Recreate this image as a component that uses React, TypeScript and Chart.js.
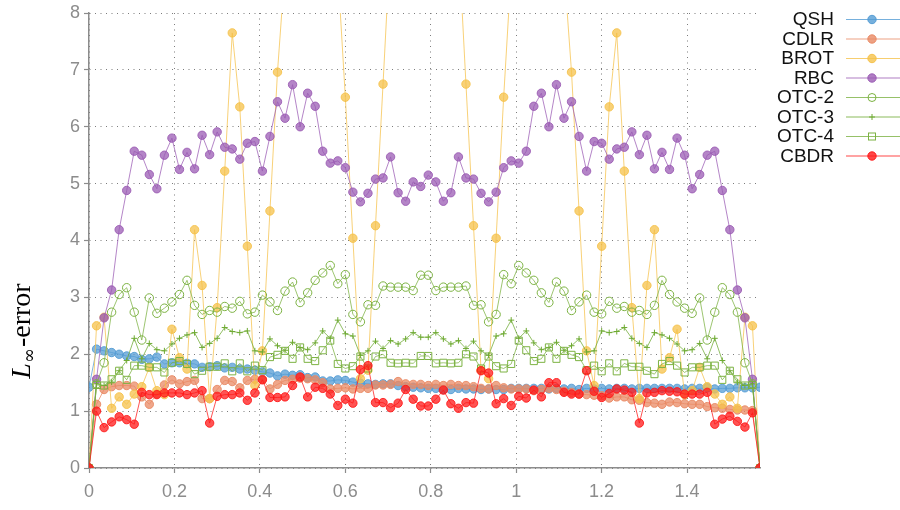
import React, { useEffect, useRef } from 'react';
import { Chart, registerables } from 'chart.js';

Chart.register(...registerables);

// ---------- data ----------
const N = 90;
// sampling grid: 90 equally spaced angles from 0 to pi/2
const angles = Array.from({ length: N }, (_, i) => (i * Math.PI) / 2 / (N - 1));

const seriesNames = ['QSH', 'CDLR', 'BROT', 'RBC', 'OTC-2', 'OTC-3', 'OTC-4', 'CBDR'];

const qsh = [
  1.42, 2.09, 2.06, 2.03, 2.0, 1.97, 1.96, 1.91, 1.92, 1.95, 1.83, 1.85, 1.85, 1.84, 1.83,
  1.77, 1.78, 1.8, 1.76, 1.77, 1.74, 1.74, 1.72, 1.69, 1.67, 1.62, 1.65, 1.63, 1.64, 1.59,
  1.6, 1.53, 1.53, 1.55, 1.54, 1.51, 1.49, 1.48, 1.47, 1.48, 1.48, 1.45, 1.43, 1.42, 1.41,
  1.4, 1.4, 1.38, 1.38, 1.4, 1.39, 1.39, 1.38, 1.39, 1.38, 1.38, 1.4, 1.4, 1.4, 1.4,
  1.4, 1.39, 1.4, 1.39, 1.4, 1.38, 1.4, 1.39, 1.4, 1.39, 1.4, 1.4, 1.39, 1.4, 1.4,
  1.4, 1.4, 1.4, 1.4, 1.39, 1.4, 1.4, 1.41, 1.39, 1.4, 1.4, 1.41, 1.41, 1.41, 1.42,
];
const cdlr = [
  0, 1.12, 1.38, 1.43, 1.45, 1.45, 1.44, 1.25, 1.12, 1.3, 1.46, 1.55, 1.48, 1.52, 1.54,
  1.22, 1.22, 1.38, 1.54, 1.52, 1.41, 1.54, 1.56, 1.56, 1.39, 1.47, 1.54, 1.56, 1.58, 1.57,
  1.55, 1.5, 1.39, 1.4, 1.41, 1.39, 1.4, 1.4, 1.46, 1.46, 1.47, 1.52, 1.48, 1.47, 1.47,
  1.45, 1.47, 1.45, 1.47, 1.45, 1.45, 1.43, 1.4, 1.39, 1.45, 1.41, 1.39, 1.39, 1.39, 1.36,
  1.38, 1.4, 1.38, 1.35, 1.33, 1.3, 1.29, 1.28, 1.27, 1.23, 1.25, 1.25, 1.2, 1.19, 1.15,
  1.14, 1.12, 1.16, 1.15, 1.13, 1.12, 1.12, 1.08, 1.06, 1.05, 1.03, 1.02, 1.02, 1.01, 0,
];
const brot = [
  0, 2.5, 2.65, 1.05, 1.25, 1.12, 1.3, 1.43, 1.77, 1.36, 1.29, 2.44, 1.94, 1.74, 4.19,
  3.21, 1.22, 2.82, 5.22, 7.65, 6.35, 3.9, 1.45, 2.06, 4.52, 6.96, 8.8, 12, 12, 12,
  12, 12, 12, 8.75, 6.52, 4.04, 1.57, 1.72, 4.26, 6.75, 9.3, 12, 12, 12, 12,
  12, 12, 12, 12, 9.3, 6.75, 4.26, 1.72, 1.57, 4.04, 6.52, 8.75, 12, 12, 12,
  12, 12, 12, 8.8, 6.96, 4.52, 2.06, 1.45, 3.9, 6.35, 7.65, 5.22, 2.82, 1.22, 3.21,
  4.19, 1.74, 1.94, 2.44, 1.29, 1.36, 1.77, 1.43, 1.3, 1.12, 1.25, 1.05, 2.65, 2.5, 0,
];
const rbc = [
  0, 1.56, 2.64, 3.13, 4.19, 4.88, 5.57, 5.5, 5.16, 4.91, 5.5, 5.8, 5.25, 5.55, 5.26,
  5.85, 5.51, 5.91, 5.64, 5.61, 5.43, 5.71, 5.74, 5.22, 5.83, 6.44, 6.15, 6.74, 6.0, 6.59,
  6.36, 5.57, 5.36, 5.4, 5.28, 4.85, 4.68, 4.83, 5.08, 5.1, 5.47, 4.84, 4.69, 5.03, 4.95,
  5.15, 5.03, 4.69, 4.84, 5.47, 5.1, 5.08, 4.83, 4.68, 4.85, 5.28, 5.4, 5.36, 5.57, 6.36,
  6.59, 6.0, 6.74, 6.15, 6.44, 5.83, 5.22, 5.74, 5.71, 5.43, 5.61, 5.64, 5.91, 5.51, 5.85,
  5.26, 5.55, 5.25, 5.8, 5.5, 4.91, 5.16, 5.5, 5.57, 4.88, 4.19, 3.13, 2.64, 1.56, 0,
];
const otc2 = [
  0, 1.48, 1.85, 2.74, 3.05, 3.17, 2.74, 2.25, 2.99, 2.72, 2.81, 2.92, 3.05, 3.3, 2.86,
  2.7, 2.77, 2.74, 2.84, 2.81, 2.93, 2.71, 2.74, 3.04, 2.92, 2.77, 3.11, 3.27, 2.91, 3.08,
  3.3, 3.43, 3.56, 3.24, 3.4, 2.7, 2.57, 2.87, 2.86, 3.2, 3.18, 3.18, 3.18, 3.12, 3.39,
  3.39, 3.12, 3.18, 3.18, 3.18, 3.2, 2.86, 2.87, 2.57, 2.7, 3.4, 3.24, 3.56, 3.43, 3.3,
  3.08, 2.91, 3.27, 3.11, 2.77, 2.92, 3.04, 2.74, 2.71, 2.93, 2.81, 2.84, 2.74, 2.77, 2.7,
  2.86, 3.3, 3.05, 2.92, 2.81, 2.72, 2.99, 2.25, 2.74, 3.17, 3.05, 2.74, 1.85, 1.48, 0,
];
const otc3 = [
  0, 1.48, 1.45, 1.51, 1.71, 1.89, 2.28, 1.92, 2.19, 2.08, 2.06, 2.18, 2.28, 2.34, 2.38,
  2.12, 2.19, 2.28, 2.47, 2.4, 2.38, 2.41, 2.06, 2.04, 2.27, 2.15, 2.07, 2.21, 2.12, 2.08,
  2.2, 2.41, 2.28, 2.6, 2.36, 2.32, 1.98, 2.06, 2.23, 2.1, 2.24, 2.18, 2.27, 2.38, 2.3,
  2.3, 2.38, 2.27, 2.18, 2.24, 2.1, 2.23, 2.06, 1.98, 2.32, 2.36, 2.6, 2.28, 2.41, 2.2,
  2.08, 2.12, 2.21, 2.07, 2.15, 2.27, 2.04, 2.06, 2.41, 2.38, 2.4, 2.47, 2.28, 2.19, 2.12,
  2.38, 2.34, 2.28, 2.18, 2.06, 2.08, 2.19, 1.92, 2.28, 1.89, 1.71, 1.51, 1.45, 1.48, 0,
];
const otc4 = [
  0, 1.46, 1.45, 1.56, 1.71, 1.55, 1.8, 1.8, 1.77, 1.77, 1.68, 1.85, 1.88, 1.83, 1.65,
  1.71, 1.78, 1.78, 1.84, 1.7, 1.84, 1.7, 1.8, 1.72, 1.95, 1.99, 2.06, 1.92, 2.12, 1.92,
  1.88, 2.07, 2.24, 1.83, 1.75, 1.79, 1.96, 1.75, 1.96, 2.0, 1.85, 1.84, 1.85, 1.84, 1.97,
  1.97, 1.84, 1.85, 1.84, 1.85, 2.0, 1.96, 1.75, 1.96, 1.79, 1.75, 1.83, 2.24, 2.07, 1.88,
  1.92, 2.12, 1.92, 2.06, 1.99, 1.95, 1.72, 1.8, 1.7, 1.84, 1.7, 1.84, 1.78, 1.78, 1.71,
  1.65, 1.83, 1.88, 1.8, 1.68, 1.77, 1.77, 1.8, 1.8, 1.55, 1.71, 1.56, 1.45, 1.46, 0,
];
const cbdr = [
  0, 1.0, 0.71, 0.81, 0.9, 0.85, 0.77, 1.33, 1.29, 1.29, 1.32, 1.32, 1.32, 1.29, 1.32,
  1.36, 0.79, 1.26, 1.29, 1.29, 1.32, 1.19, 1.32, 1.55, 1.24, 1.24, 1.25, 1.45, 1.6, 1.25,
  1.42, 1.4, 1.3, 1.1, 1.21, 1.14, 1.73, 1.8, 1.15, 1.15, 1.06, 1.14, 1.38, 1.21, 1.09,
  1.09, 1.21, 1.37, 1.13, 1.05, 1.15, 1.14, 1.71, 1.67, 1.13, 1.22, 1.1, 1.26, 1.23, 1.37,
  1.25, 1.5, 1.5, 1.33, 1.3, 1.3, 1.71, 1.35, 1.24, 1.31, 1.39, 1.37, 1.33, 0.79, 1.32,
  1.33, 1.36, 1.35, 1.34, 1.3, 1.3, 1.3, 1.33, 0.77, 0.86, 0.91, 0.82, 0.72, 0.97, 0,
];

const seriesValues = [qsh, cdlr, brot, rbc, otc2, otc3, otc4, cbdr];

const xTicks = [0, 0.2, 0.4, 0.6, 0.8, 1, 1.2, 1.4];
const yTicks = [0, 1, 2, 3, 4, 5, 6, 7, 8];

// ---------- styles ----------
type Sty = { rgb: string; shape: 'circle' | 'ocircle' | 'plus' | 'square' };
const STYLES: Sty[] = [
  { rgb: '84,156,212', shape: 'circle' },
  { rgb: '233,137,100', shape: 'circle' },
  { rgb: '245,194,75', shape: 'circle' },
  { rgb: '155,92,180', shape: 'circle' },
  { rgb: '124,178,66', shape: 'ocircle' },
  { rgb: '110,170,50', shape: 'plus' },
  { rgb: '124,178,66', shape: 'square' },
  { rgb: '255,25,25', shape: 'circle' },
];

const TICK_FONT = { family: '"Liberation Sans", Arial, sans-serif', size: 18, lineHeight: 1 };
const AXIS_GREY = '#8c8c8c';

function drawMarker(ctx: CanvasRenderingContext2D, s: Sty, x: number, y: number) {
  ctx.save();
  ctx.lineWidth = 1;
  if (s.shape === 'circle') {
    ctx.beginPath();
    ctx.arc(x, y, 4.2, 0, Math.PI * 2);
    ctx.fillStyle = `rgba(${s.rgb},0.8)`;
    ctx.fill();
    ctx.strokeStyle = `rgba(${s.rgb},0.95)`;
    ctx.stroke();
  } else if (s.shape === 'ocircle') {
    ctx.beginPath();
    ctx.arc(x, y, 4, 0, Math.PI * 2);
    ctx.strokeStyle = `rgb(${s.rgb})`;
    ctx.stroke();
  } else if (s.shape === 'square') {
    ctx.strokeStyle = `rgb(${s.rgb})`;
    ctx.strokeRect(x - 3.5, y - 3.5, 7, 7);
  } else {
    ctx.strokeStyle = `rgb(${s.rgb})`;
    ctx.beginPath();
    ctx.moveTo(x - 3, y);
    ctx.lineTo(x + 3, y);
    ctx.moveTo(x, y - 3);
    ctx.lineTo(x, y + 3);
    ctx.stroke();
  }
  ctx.restore();
}

const legendPlugin = {
  id: 'sideLegend',
  afterDraw(chart: any) {
    const ctx: CanvasRenderingContext2D = chart.ctx;
    ctx.save();
    seriesNames.forEach((name, k) => {
      const y = 19 + k * 19.5;
      const s = STYLES[k];
      ctx.font = '19px "Liberation Sans", Arial, sans-serif';
      ctx.fillStyle = '#111';
      ctx.textAlign = 'right';
      ctx.textBaseline = 'middle';
      ctx.fillText(name, 834, y + 1);
      ctx.strokeStyle = `rgba(${s.rgb},0.8)`;
      ctx.lineWidth = 1;
      ctx.beginPath();
      ctx.moveTo(846, y + 0.5);
      ctx.lineTo(900, y + 0.5);
      ctx.stroke();
      drawMarker(ctx, s, 872, y + 0.5);
    });
    ctx.restore();
  },
};

const yTitlePlugin = {
  id: 'yTitle',
  afterDraw(chart: any) {
    const ctx: CanvasRenderingContext2D = chart.ctx;
    ctx.save();
    ctx.translate(30, 331);
    ctx.rotate(-Math.PI / 2);
    ctx.fillStyle = '#000';
    ctx.textBaseline = 'alphabetic';
    ctx.textAlign = 'left';
    const fL = 'italic 28px "Liberation Serif", "DejaVu Serif", serif';
    const fSub = '18px "DejaVu Serif", "Liberation Serif", serif';
    const fR = '28px "Liberation Serif", "DejaVu Serif", serif';
    ctx.font = fL;
    const wL = ctx.measureText('L').width;
    ctx.font = fSub;
    const wS = ctx.measureText('\u221E').width;
    ctx.font = fR;
    const wR = ctx.measureText('-error').width;
    const total = wL + wS + wR + 1;
    let x = -total / 2;
    ctx.font = fL;
    ctx.fillText('L', x, 0);
    x += wL;
    ctx.font = fSub;
    ctx.fillText('\u221E', x, 5);
    x += wS + 1;
    ctx.font = fR;
    ctx.fillText('-error', x, 0);
    ctx.restore();
  },
};

export default function App() {
  const ref = useRef<HTMLCanvasElement | null>(null);

  useEffect(() => {
    if (!ref.current) return;
    const datasets = seriesValues.map((vals, k) => {
      const s = STYLES[k];
      const base: any = {
        label: seriesNames[k],
        data: vals.map((v, i) => ({ x: angles[i], y: v })),
        borderColor: `rgba(${s.rgb},0.75)`,
        borderWidth: 1,
        tension: 0,
        order: seriesNames.length - k,
        pointHoverRadius: 0,
      };
      if (s.shape === 'circle') {
        base.pointStyle = 'circle';
        base.pointRadius = 4.2;
        base.pointBackgroundColor = `rgba(${s.rgb},0.75)`;
        base.pointBorderColor = `rgba(${s.rgb},0.9)`;
        base.pointBorderWidth = 1;
      } else if (s.shape === 'ocircle') {
        base.pointStyle = 'circle';
        base.pointRadius = 4.2;
        base.pointBackgroundColor = 'rgba(0,0,0,0)';
        base.pointBorderColor = `rgb(${s.rgb})`;
        base.pointBorderWidth = 1;
      } else if (s.shape === 'square') {
        base.pointStyle = 'rect';
        base.pointRadius = 5;
        base.pointBackgroundColor = 'rgba(0,0,0,0)';
        base.pointBorderColor = `rgb(${s.rgb})`;
        base.pointBorderWidth = 1;
      } else {
        base.pointStyle = 'cross';
        base.pointRadius = 3;
        base.pointBorderColor = `rgb(${s.rgb})`;
        base.pointBorderWidth = 1;
      }
      return base;
    });

    const chart = new Chart(ref.current, {
      type: 'line',
      data: { datasets },
      plugins: [legendPlugin, yTitlePlugin],
      options: {
        animation: false,
        responsive: false,
        events: [],
        layout: { padding: { left: 0, right: 140, top: 10, bottom: 0 } },
        plugins: { legend: { display: false }, tooltip: { enabled: false } },
        scales: {
          x: {
            type: 'linear',
            min: 0,
            max: Math.PI / 2,
            afterBuildTicks: (scale: any) => {
              scale.ticks = xTicks.map((v) => ({ value: v }));
            },
            afterFit: (scale: any) => {
              scale.height = 42;
            },
            ticks: {
              font: TICK_FONT,
              color: AXIS_GREY,
              padding: 10,
              maxRotation: 0,
              autoSkip: false,
              callback: (v: any) => String(Number(Number(v).toFixed(1))),
            },
            grid: {
              color: 'rgba(110,110,110,0.9)',
              lineWidth: 1,
              drawTicks: true,
              tickLength: 5,
              tickColor: AXIS_GREY,
              tickWidth: 1.2,
              tickBorderDash: [],
            },
            border: { display: true, color: AXIS_GREY, width: 1.5, dash: [1, 4.5] },
          },
          y: {
            type: 'linear',
            min: 0,
            max: 8,
            afterBuildTicks: (scale: any) => {
              scale.ticks = yTicks.map((v) => ({ value: v }));
            },
            afterFit: (scale: any) => {
              scale.width = 89;
            },
            ticks: {
              font: TICK_FONT,
              color: AXIS_GREY,
              padding: 4,
              autoSkip: false,
            },
            grid: {
              color: 'rgba(110,110,110,0.9)',
              lineWidth: 1,
              drawTicks: true,
              tickLength: 5,
              tickColor: AXIS_GREY,
              tickWidth: 1.2,
              tickBorderDash: [],
            },
            border: { display: true, color: AXIS_GREY, width: 1.5, dash: [1, 4.5] },
          },
        },
      } as any,
    });
    return () => chart.destroy();
  }, []);

  return (
    <div style={{ position: 'fixed', left: 0, top: 0, width: 900, height: 510, background: '#fff' }}>
      <canvas ref={ref} width={900} height={510} style={{ width: 900, height: 510, display: 'block' }} />
    </div>
  );
}
